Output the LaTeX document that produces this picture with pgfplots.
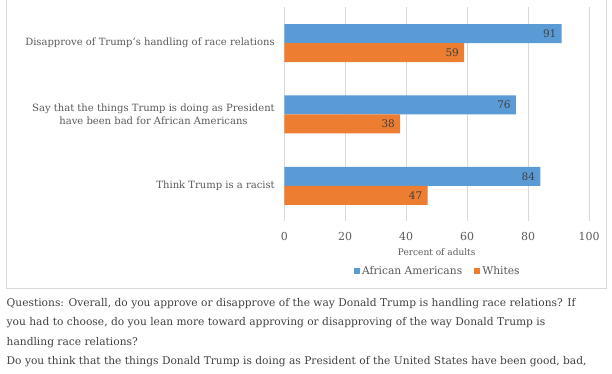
\documentclass[border=0pt]{standalone}
\usepackage{pgfplots}
\pgfplotsset{compat=1.18}
\usepackage{fontspec}
\setmainfont{DejaVu Serif}
\definecolor{aablue}{HTML}{5B9BD5}
\definecolor{wor}{HTML}{ED7D31}
\definecolor{txt}{HTML}{595959}
\definecolor{grd}{HTML}{D9D9D9}
\definecolor{foot}{HTML}{404040}
\begin{document}
\begin{tikzpicture}[x=1pt,y=1pt]
\path[use as bounding box] (0,0) rectangle (612,374);
\draw[grd,line width=0.8pt] (6.5,375) -- (6.5,85.5) -- (606.5,85.5) -- (606.5,375);
\begin{axis}[
  at={(284.3pt,152.5pt)}, anchor=south west,
  scale only axis, width=304.7pt, height=214pt,
  xmin=0, xmax=100, ymin=-0.5, ymax=2.5,
  xbar, bar width=19pt,
  axis line style={draw=none},
  xmajorgrids, grid style={grd, line width=0.6pt},
  major tick length=0pt,
  xtick={0,20,...,100},
  ytick={0,1,2},
  yticklabels={Think Trump is a racist,{Say that the things Trump is doing as President\\have been bad for African Americans},Disapprove of Trump's handling of race relations},
  yticklabel style={align=center, font=\fontsize{10}{13}\selectfont, text=txt, xshift=-6pt},
  xticklabel style={font=\fontsize{11}{13}\selectfont, text=txt, yshift=-7pt},
  /pgf/number format/assume math mode=true,
  xlabel={Percent of adults},
  xlabel style={font=\fontsize{9}{11}\selectfont, text=txt, yshift=-1pt},
  nodes near coords,
  nodes near coords style={anchor=east, font=\fontsize{10.5}{13}\selectfont, text=foot, inner xsep=5pt},
  legend style={at={(0.504,-0.231)}, anchor=center, draw=none, legend columns=2,
    font=\fontsize{10.7}{13}\selectfont, text=txt,
    /tikz/every even column/.append style={column sep=10pt}},
  legend image code/.code={\fill[#1,draw=none] (0pt,-3pt) rectangle (6pt,3pt);},
]
\addplot+[fill=aablue, draw=none, bar shift=9.5pt] coordinates {(84,0) (76,1) (91,2)};
\addplot+[fill=wor, draw=none, bar shift=-9.5pt] coordinates {(47,0) (38,1) (59,2)};
\legend{African Americans, Whites}
\end{axis}
\node[anchor=north west, inner sep=0pt, align=left, text=foot, font=\fontsize{10.65}{19.4}\selectfont] at (6.5,76) {Questions: Overall, do you approve or disapprove of the way Donald Trump is handling race relations? If\\you had to choose, do you lean more toward approving or disapproving of the way Donald Trump is\\handling race relations?\\Do you think that the things Donald Trump is doing as President of the United States have been good, bad,};
\end{tikzpicture}
\end{document}
